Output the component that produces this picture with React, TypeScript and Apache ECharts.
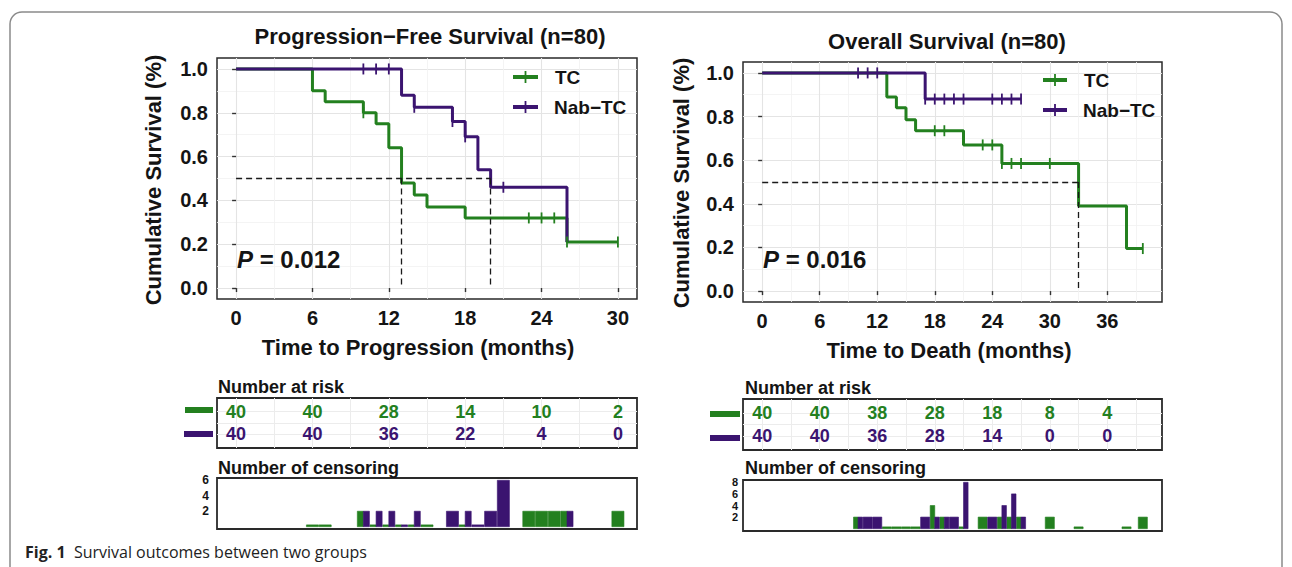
import React, { useEffect, useRef } from "react";
import * as echarts from "echarts";

const GREEN = "#23801f";
const PURPLE = "#3b1470";
const INK = "#141414";
const FONT = "'Liberation Sans', Arial, Helvetica, sans-serif";

// ---------- Progression-free survival (Kaplan-Meier steps) ----------
const pfsTimes_TC = [0, 6, 7, 10, 11, 12, 13, 14, 15, 18, 26, 30];
const pfsSurv_TC = [1, 0.9, 0.85, 0.8, 0.75, 0.64, 0.48, 0.425, 0.37, 0.32, 0.21, 0.21];
const pfsTimes_Nab = [0, 13, 14, 17, 18, 19, 20, 26];
const pfsSurv_Nab = [1, 0.88, 0.825, 0.76, 0.69, 0.54, 0.46, 0.21];
const pfsCensor_TC = [10, 23, 24, 25, 26, 30];
const pfsCensor_Nab = [10, 11, 12, 14, 17, 18, 21];
const pfsMedians = [13, 20];
const pfsP = "0.012";

// ---------- Overall survival ----------
const osTimes_TC = [0, 13, 14, 15, 16, 21, 25, 33, 38, 39.7];
const osSurv_TC = [1, 0.89, 0.84, 0.785, 0.735, 0.67, 0.585, 0.39, 0.195, 0.195];
const osTimes_Nab = [0, 17, 27];
const osSurv_Nab = [1, 0.88, 0.88];
const osCensor_TC = [18, 19, 23, 24, 25, 26, 27, 30, 39.7];
const osCensor_Nab = [10, 11, 12, 17, 18, 19, 20, 21, 24, 25, 26, 27];
const osMedians = [33];
const osP = "0.016";

// ---------- Number at risk ----------
const pfsRiskTimes = [0, 6, 12, 18, 24, 30];
const pfsRisk_TC = [40, 40, 28, 14, 10, 2];
const pfsRisk_Nab = [40, 40, 36, 22, 4, 0];
const osRiskTimes = [0, 6, 12, 18, 24, 30, 36];
const osRisk_TC = [40, 40, 38, 28, 18, 8, 4];
const osRisk_Nab = [40, 40, 36, 28, 14, 0, 0];

// ---------- Number of censoring ----------
const pfsCensTimes_TC = [6, 7, 10, 11, 12, 13, 14, 15, 18, 23, 24, 25, 26, 30];
const pfsCensN_TC = [0, 0, 2, 0, 0, 0, 0, 0, 0, 2, 2, 2, 2, 2];
const pfsCensTimes_Nab = [10, 11, 12, 13, 14, 17, 18, 19, 20, 21, 26];
const pfsCensN_Nab = [2, 2, 2, 0, 2, 2, 2, 0, 2, 6, 2];
const osCensTimes_TC = [10, 13, 14, 15, 16, 18, 19, 21, 23, 25, 26, 27, 30, 33, 38, 39.7];
const osCensN_TC = [2, 0, 0, 0, 0, 4, 2, 0, 2, 2, 2, 2, 2, 0, 0, 2];
const osCensTimes_Nab = [10, 11, 12, 17, 18, 19, 20, 21, 24, 25, 26, 27];
const osCensN_Nab = [2, 2, 2, 2, 2, 2, 2, 8, 2, 4, 6, 2];

// ---------- Ticks ----------
const pfsXTicks = [0, 6, 12, 18, 24, 30];
const pfsXMinor = [3, 9, 15, 21, 27];
const osXTicks = [0, 6, 12, 18, 24, 30, 36];
const osXMinor = [3, 9, 15, 21, 27, 33, 39];
const survTicks = [0, 0.2, 0.4, 0.6, 0.8, 1];
const survMinor = [0.1, 0.3, 0.5, 0.7, 0.9];
const riskRows = [0, 0.5, 1];
const pfsCensTicks = [2, 4, 6];
const osCensTicks = [2, 4, 6, 8];

const zip = (a: number[], b: number[]) => a.map((v, i) => [v, b[i]]);
const survAt = (times: number[], surv: number[], t: number) => {
  let s = 1;
  times.forEach((x, i) => {
    if (x <= t) s = surv[i];
  });
  return s;
};

function kmAxes(grid: number, min: number, max: number, majors: number[], minors: number[], ymin: number, ymax: number) {
  const x = [
    {
      type: "value", gridIndex: grid, min, max, position: "bottom",
      axisLine: { show: false },
      axisTick: { show: true, customValues: majors, length: 4, lineStyle: { color: "#333", width: 1.4 } },
      axisLabel: { customValues: majors, fontSize: 20, fontWeight: "bold", fontFamily: FONT, color: INK, margin: 9, hideOverlap: false },
      splitLine: { show: true, lineStyle: { color: "#e4e4e4", width: 1.1 } },
    },
    {
      type: "value", gridIndex: grid, min, max, position: "top",
      axisLine: { show: false },
      axisTick: { show: false, customValues: minors },
      axisLabel: { show: false },
      splitLine: { show: true, lineStyle: { color: "#f1f1f1", width: 0.8 } },
    },
  ];
  const y = [
    {
      type: "value", gridIndex: grid, min: ymin, max: ymax, position: "left",
      axisLine: { show: false },
      axisTick: { show: true, customValues: survTicks, length: 4, lineStyle: { color: "#333", width: 1.4 } },
      axisLabel: {
        customValues: survTicks, fontSize: 20, fontWeight: "bold", fontFamily: FONT, color: INK, margin: 9, hideOverlap: false,
        formatter: (v: number) => v.toFixed(1),
      },
      splitLine: { show: true, lineStyle: { color: "#e4e4e4", width: 1.1 } },
    },
    {
      type: "value", gridIndex: grid, min: ymin, max: ymax, position: "right",
      axisLine: { show: false },
      axisTick: { show: false, customValues: survMinor },
      axisLabel: { show: false },
      splitLine: { show: true, lineStyle: { color: "#f1f1f1", width: 0.8 } },
    },
  ];
  return { x, y };
}

function kmSeries(xi: number, yi: number, tTC: number[], sTC: number[], tNab: number[], sNab: number[], cTC: number[], cNab: number[], medians: number[]) {
  const medMax = Math.max(...medians);
  const medLines: any[] = [[{ coord: [0, 0.5] }, { coord: [medMax, 0.5] }]];
  medians.forEach((m) => medLines.push([{ coord: [m, 0.5] }, { coord: [m, 0] }]));
  return [
    {
      type: "line", xAxisIndex: xi, yAxisIndex: yi, step: "end", symbol: "none", z: 3,
      data: zip(tTC, sTC), lineStyle: { color: GREEN, width: 3 }, itemStyle: { color: GREEN },
    },
    {
      type: "line", xAxisIndex: xi, yAxisIndex: yi, step: "end", symbol: "none", z: 4,
      data: zip(tNab, sNab), lineStyle: { color: PURPLE, width: 3 }, itemStyle: { color: PURPLE },
    },
    {
      type: "scatter", xAxisIndex: xi, yAxisIndex: yi, symbol: "rect", symbolSize: [1.8, 11], z: 5,
      data: cTC.map((t) => [t, survAt(tTC, sTC, t)]), itemStyle: { color: GREEN, opacity: 1 },
    },
    {
      type: "scatter", xAxisIndex: xi, yAxisIndex: yi, symbol: "rect", symbolSize: [1.8, 11], z: 5,
      data: cNab.map((t) => [t, survAt(tNab, sNab, t)]), itemStyle: { color: PURPLE, opacity: 1 },
    },
    {
      type: "line", xAxisIndex: xi, yAxisIndex: yi, data: [], z: 6,
      markLine: {
        silent: true, symbol: ["none", "none"], label: { show: false },
        lineStyle: { color: "#1a1a1a", width: 1.3, type: [6, 4] },
        data: medLines,
      },
    },
  ];
}

function riskSeries(xi: number, yi: number, times: number[], vals: number[], row: number, color: string) {
  return {
    type: "scatter", xAxisIndex: xi, yAxisIndex: yi, symbolSize: 0, silent: true, z: 5,
    itemStyle: { color, opacity: 1 },
    data: times.map((t, i) => [t, row, vals[i]]),
    label: {
      show: true, position: "inside", color, opacity: 1, fontSize: 18, fontWeight: "bold", fontFamily: FONT,
      textBorderWidth: 0, textBorderColor: "transparent", textShadowBlur: 0,
      formatter: (p: any) => String(p.value[2]),
    },
    labelLayout: { hideOverlap: false },
  };
}

function censorSeries(xi: number, yi: number, times: number[], counts: number[], other: number[], side: number, color: string) {
  return {
    type: "custom", xAxisIndex: xi, yAxisIndex: yi, clip: true, z: 4,
    encode: { x: 0, y: 1 },
    data: times.map((t, i) => [t, counts[i], other.includes(t) ? side : 0]),
    renderItem: (_params: any, api: any) => {
      const t = api.value(0);
      const n = api.value(1);
      const s = api.value(2);
      const w = 0.95;
      const a = s === 1 ? t : t - w / 2;
      const b = s === -1 ? t : t + w / 2;
      const p0 = api.coord([a, 0]);
      const p1 = api.coord([b, n]);
      const h = Math.max(p0[1] - p1[1], 1.8);
      return {
        type: "rect",
        shape: { x: p0[0], y: p0[1] - h, width: p1[0] - p0[0], height: h },
        style: { fill: color, stroke: color, lineWidth: 0.6 },
      };
    },
  };
}

function txt(x: number, y: number, text: string, size: number, o: any = {}) {
  const align = o.align ?? "center";
  return {
    type: "text", x, y, rotation: o.rot ?? 0, z: 20,
    style: {
      text, fill: o.fill ?? INK,
      font: `${o.italic ? "italic " : ""}${o.weight ?? "bold"} ${size}px ${o.family ?? FONT}`,
      align, verticalAlign: "middle", textAlign: align, textVerticalAlign: "middle",
      rich: o.rich,
    },
  };
}

function legendKey(x1: number, x2: number, y: number, color: string) {
  const cx = (x1 + x2) / 2;
  return [
    { type: "line", z: 20, shape: { x1, y1: y, x2, y2: y }, style: { stroke: color, lineWidth: 4 } },
    { type: "line", z: 20, shape: { x1: cx, y1: y - 6, x2: cx, y2: y + 6 }, style: { stroke: color, lineWidth: 1.8 } },
  ];
}

function buildOption() {
  const grids = [
    { left: 217, top: 58, width: 420, height: 241 },
    { left: 743, top: 62, width: 419, height: 240 },
    { left: 217, top: 398, width: 420, height: 50 },
    { left: 743, top: 399, width: 419, height: 51 },
    { left: 217, top: 478, width: 420, height: 51 },
    { left: 743, top: 480, width: 419, height: 51 },
  ].map((g, i) => ({
    ...g, show: true, backgroundColor: "#fff", borderColor: "#2a2a2a",
    borderWidth: i < 2 ? 1.5 : 1.8, containLabel: false, outerBoundsMode: "none",
  }));

  const pfsKM = kmAxes(0, -1.5, 31.5, pfsXTicks, pfsXMinor, -0.05, 1.05);
  const osKM = kmAxes(1, -2, 41.7, osXTicks, osXMinor, -0.05, 1.05);

  const riskX = (grid: number, min: number, max: number, vals: number[]) => ({
    type: "value", gridIndex: grid, min, max,
    axisLine: { show: false }, axisTick: { show: false, customValues: vals }, axisLabel: { show: false },
    splitLine: { show: true, lineStyle: { color: "#ececec", width: 1 } },
  });
  const riskY = (grid: number) => ({
    type: "value", gridIndex: grid, min: -0.6, max: 1.6,
    axisLine: { show: false }, axisTick: { show: false, customValues: riskRows }, axisLabel: { show: false },
    splitLine: { show: true, lineStyle: { color: "#ececec", width: 1 } },
  });
  const censX = (grid: number, min: number, max: number) => ({
    type: "value", gridIndex: grid, min, max,
    axisLine: { show: false }, axisTick: { show: false }, axisLabel: { show: false }, splitLine: { show: false },
  });
  const censY = (grid: number, min: number, max: number, ticks: number[], margin: number, size: number) => ({
    type: "value", gridIndex: grid, min, max,
    axisLine: { show: false }, axisTick: { show: false, customValues: ticks },
    axisLabel: {
      customValues: ticks, fontSize: size, lineHeight: size, fontWeight: "bold", fontFamily: FONT, color: INK,
      margin, hideOverlap: false, showMinLabel: true, showMaxLabel: true,
    },
    splitLine: { show: false },
  });

  const xAxis = [
    ...pfsKM.x, // 0,1
    ...osKM.x, // 2,3
    riskX(2, -1.5, 31.5, [...pfsXTicks, ...pfsXMinor]), // 4
    riskX(3, -2, 41.7, [...osXTicks, ...osXMinor]), // 5
    censX(4, -1.5, 31.5), // 6
    censX(5, -2, 41.7), // 7
  ];
  const yAxis = [
    ...pfsKM.y,
    ...osKM.y,
    riskY(2),
    riskY(3),
    censY(4, -0.3, 6.3, pfsCensTicks, 8, 12),
    censY(5, -0.4, 8.4, osCensTicks, 5, 11),
  ];

  const series = [
    ...kmSeries(0, 0, pfsTimes_TC, pfsSurv_TC, pfsTimes_Nab, pfsSurv_Nab, pfsCensor_TC, pfsCensor_Nab, pfsMedians),
    ...kmSeries(2, 2, osTimes_TC, osSurv_TC, osTimes_Nab, osSurv_Nab, osCensor_TC, osCensor_Nab, osMedians),
    riskSeries(4, 4, pfsRiskTimes, pfsRisk_TC, 1, GREEN),
    riskSeries(4, 4, pfsRiskTimes, pfsRisk_Nab, 0, PURPLE),
    riskSeries(5, 5, osRiskTimes, osRisk_TC, 1, GREEN),
    riskSeries(5, 5, osRiskTimes, osRisk_Nab, 0, PURPLE),
    censorSeries(6, 6, pfsCensTimes_TC, pfsCensN_TC, pfsCensTimes_Nab, -1, GREEN),
    censorSeries(6, 6, pfsCensTimes_Nab, pfsCensN_Nab, pfsCensTimes_TC, 1, PURPLE),
    censorSeries(7, 7, osCensTimes_TC, osCensN_TC, osCensTimes_Nab, -1, GREEN),
    censorSeries(7, 7, osCensTimes_Nab, osCensN_Nab, osCensTimes_TC, 1, PURPLE),
  ];

  const pRich = { i: { fontStyle: "italic", fontWeight: "bold", fontSize: 24, fontFamily: FONT, fill: INK } };

  const graphic: any[] = [
    {
      type: "rect", z: 0, shape: { x: 10, y: 12, width: 1272, height: 700, r: 12 },
      style: { fill: "none", stroke: "#8a8a8a", lineWidth: 1.5 },
    },
    // titles
    txt(430, 36, "Progression\u2212Free Survival (n=80)", 22),
    txt(947, 41, "Overall Survival (n=80)", 22),
    // axis titles
    txt(153, 180, "Cumulative Survival (%)", 22, { rot: Math.PI / 2 }),
    txt(681, 183, "Cumulative Survival (%)", 22, { rot: Math.PI / 2 }),
    txt(418, 347, "Time to Progression (months)", 22),
    txt(949, 350, "Time to Death (months)", 22),
    // P values
    txt(237, 259, `{i|P} = ${pfsP}`, 24, { align: "left", rich: pRich }),
    txt(763, 259, `{i|P} = ${osP}`, 24, { align: "left", rich: pRich }),
    // legends
    ...legendKey(513, 538, 77, GREEN),
    ...legendKey(513, 538, 107, PURPLE),
    txt(555, 77, "TC", 19, { align: "left" }),
    txt(554, 107, "Nab\u2212TC", 19, { align: "left" }),
    ...legendKey(1043, 1067, 80, GREEN),
    ...legendKey(1043, 1067, 110, PURPLE),
    txt(1084, 80, "TC", 19, { align: "left" }),
    txt(1083, 110, "Nab\u2212TC", 19, { align: "left" }),
    // risk table headers and swatches
    txt(218, 387, "Number at risk", 18, { align: "left" }),
    txt(745, 388, "Number at risk", 18, { align: "left" }),
    { type: "rect", z: 20, shape: { x: 185, y: 407, width: 28, height: 6 }, style: { fill: GREEN } },
    { type: "rect", z: 20, shape: { x: 184, y: 431, width: 29, height: 6 }, style: { fill: PURPLE } },
    { type: "rect", z: 20, shape: { x: 710, y: 411, width: 30, height: 6 }, style: { fill: GREEN } },
    { type: "rect", z: 20, shape: { x: 710, y: 435, width: 30, height: 6 }, style: { fill: PURPLE } },
    txt(218, 468, "Number of censoring", 18, { align: "left" }),
    txt(745, 468, "Number of censoring", 18, { align: "left" }),
    // caption
    txt(25, 552, "{b|Fig. 1}  Survival outcomes between two groups", 16, {
      align: "left", weight: "normal", family: "'Open Sans', 'Noto Sans', sans-serif", fill: "#222",
      rich: { b: { fontWeight: "bold", fontSize: 16, fontFamily: "'Open Sans', 'Noto Sans', sans-serif", fill: "#222" } },
    }),
  ];

  return {
    animation: false,
    backgroundColor: "#ffffff",
    grid: grids,
    xAxis,
    yAxis,
    series,
    graphic,
  };
}

export default function App() {
  const ref = useRef<HTMLDivElement>(null);
  useEffect(() => {
    if (!ref.current) return;
    const chart = echarts.init(ref.current, null, { renderer: "svg" });
    chart.setOption(buildOption() as any);
    return () => chart.dispose();
  }, []);
  return (
    <div
      ref={ref}
      style={{ position: "absolute", left: 0, top: 0, width: 1292, height: 567, background: "#fff" }}
    />
  );
}
